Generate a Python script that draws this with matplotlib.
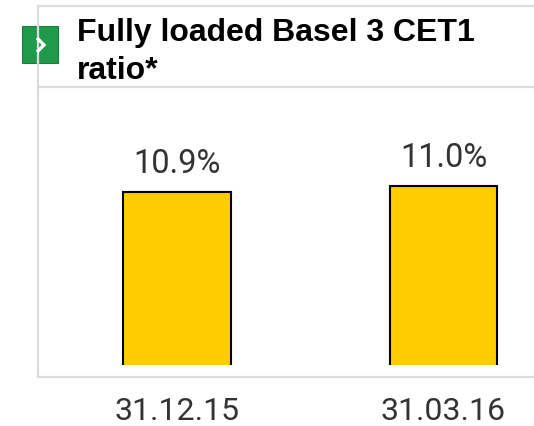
import matplotlib.pyplot as plt
import matplotlib.transforms as mtransforms
from matplotlib.lines import Line2D
from matplotlib.patches import Rectangle

dates = ["31.12.15", "31.03.16"]
ratios = [10.9, 11.0]
value_labels = ["10.9%", "11.0%"]

W, H = 534, 426
fig = plt.figure(figsize=(W / 100, H / 100), dpi=100)

num_font = ["Roboto", "DejaVu Sans"]
grey = "#dcdcdc"


def fx(px):
    return px / W


def fy(py):
    return 1 - py / H


# panel frame lines
fig.add_artist(Line2D([fx(38), fx(38)], [fy(6), fy(377)], color=grey, lw=1.6))
fig.add_artist(Line2D([fx(38), 1], [fy(6), fy(6)], color=grey, lw=1.6))
fig.add_artist(Line2D([fx(38), 1], [fy(87), fy(87)], color=grey, lw=1.6))
fig.add_artist(Line2D([fx(38), 1], [fy(377), fy(377)], color=grey, lw=1.6))

# green arrow icon
fig.add_artist(Rectangle((fx(22), fy(63)), fx(36), 37 / H, transform=fig.transFigure,
                         facecolor="#1f9a4b", edgecolor="#15803b", lw=0.8))
fig.add_artist(Line2D([fx(37), fx(44), fx(37)], [fy(38), fy(45), fy(52)],
                      color="white", lw=2.4, solid_capstyle="butt", solid_joinstyle="miter"))

# title
fig.text(fx(77), fy(41), "Fully loaded Basel 3 CET1", fontsize=23,
         fontweight="bold", family="Liberation Sans", va="baseline", color="black")
fig.text(fx(77), fy(79), "ratio*", fontsize=23,
         fontweight="bold", family="Liberation Sans", va="baseline", color="black")

# bar axes
ax = fig.add_axes([fx(38), fy(365), 1 - fx(38), fy(90) - fy(365)])
x = list(range(len(dates)))
bars = ax.bar(x, ratios, width=0.405, color="#ffcc00", edgecolor="black", linewidth=1.5)
ax.set_xlim(-(177 - 38) / 266.5, (534 - 177) / 266.5)
ax.set_ylim(8.02, 8.02 + (365 - 90) / 60)
for b, lab in zip(bars, value_labels):
    ax.annotate(lab, (b.get_x() + b.get_width() / 2, b.get_height()),
                xytext=(0, 14), textcoords="offset points", ha="center",
                va="baseline", fontsize=23.5, color="#333333", family=num_font)

# category labels under the panel
trans = mtransforms.blended_transform_factory(ax.transData, fig.transFigure)
for xi, d in zip(x, dates):
    ax.text(xi, fy(420), d, transform=trans, ha="center", va="baseline",
            fontsize=23, color="#333333", family=num_font)
ax.set_xticks([])
ax.set_yticks([])
for s in ax.spines.values():
    s.set_visible(False)
ax.patch.set_alpha(0)

fig.savefig("out.png", dpi=100)
